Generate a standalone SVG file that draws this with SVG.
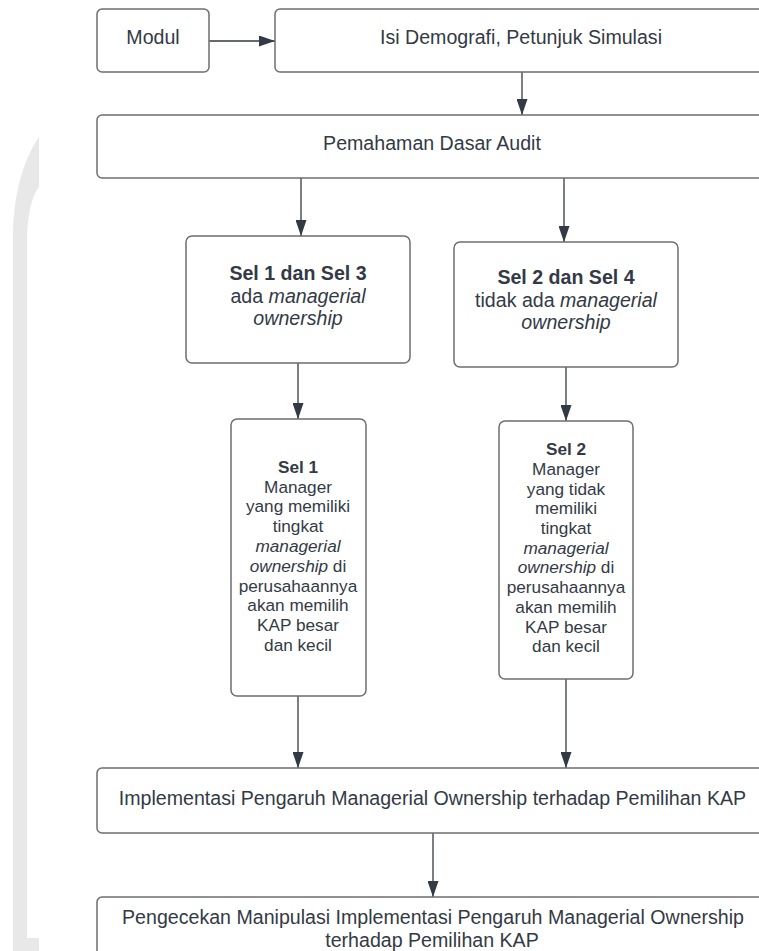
<svg xmlns="http://www.w3.org/2000/svg" width="759" height="951" viewBox="0 0 759 951">
<style>
.box{fill:#ffffff;stroke:#6e6e6e;stroke-width:1.5}
.t{font-family:"Liberation Sans",Arial,sans-serif;fill:#333a45;text-anchor:middle}
.m{font-size:19.6px}
.s{font-size:17.2px}
.b{font-weight:bold}
.i{font-style:italic}
.c{stroke:#333a45;stroke-width:1.3;fill:none;marker-end:url(#ah)}
</style>
<defs>
<marker id="ah" viewBox="0 0 16 11" refX="16" refY="5.5" markerWidth="16" markerHeight="11" markerUnits="userSpaceOnUse" orient="auto">
<path d="M0,0 L16,5.5 L0,11 Z" fill="#333a45"/>
</marker>
</defs>
<rect width="759" height="951" fill="#ffffff"/>
<path id="watermark" d="M39 137 L39 187 C32 196 28 212 27 236 L27 938 L39 938 L39 951 L13 951 L13 232 C14 196 22 162 39 137 Z" fill="#e8e8e8"/>

<g id="connectors">
<line class="c" x1="209" y1="41" x2="275" y2="41"/>
<line class="c" x1="522" y1="72" x2="522" y2="115"/>
<line class="c" x1="301" y1="178" x2="301" y2="236"/>
<line class="c" x1="564" y1="178" x2="564" y2="242"/>
<line class="c" x1="298" y1="363" x2="298" y2="419"/>
<line class="c" x1="566" y1="367" x2="566" y2="421"/>
<line class="c" x1="298" y1="696" x2="298" y2="768"/>
<line class="c" x1="566" y1="679" x2="566" y2="768"/>
<line class="c" x1="433" y1="833" x2="433" y2="897"/>
</g>

<g id="modul">
<rect class="box" x="97" y="9" width="112" height="63" rx="5"/>
<text class="t m" x="153" y="44">Modul</text>
</g>

<g id="isi">
<rect class="box" x="275" y="9" width="492" height="63" rx="5"/>
<text class="t m" x="521" y="44">Isi Demografi, Petunjuk Simulasi</text>
</g>

<g id="pemahaman">
<rect class="box" x="97" y="115" width="670" height="63" rx="5"/>
<text class="t m" x="432" y="150">Pemahaman Dasar Audit</text>
</g>

<g id="sel13">
<rect class="box" x="186" y="236" width="224" height="127" rx="6"/>
<text class="t m" x="298" y="280"><tspan class="b">Sel 1 dan Sel 3</tspan><tspan x="298" y="303">ada <tspan class="i">managerial</tspan></tspan><tspan class="i" x="298" y="325">ownership</tspan></text>
</g>

<g id="sel24">
<rect class="box" x="454" y="242" width="224" height="125" rx="6"/>
<text class="t m" x="566" y="284"><tspan class="b">Sel 2 dan Sel 4</tspan><tspan x="566" y="307">tidak ada <tspan class="i">managerial</tspan></tspan><tspan class="i" x="566" y="329">ownership</tspan></text>
</g>

<g id="sel1">
<rect class="box" x="231" y="419" width="135" height="277" rx="6"/>
<text class="t s" x="298" y="472.7"><tspan class="b">Sel 1</tspan><tspan x="298" y="492.5">Manager</tspan><tspan x="298" y="512.3">yang memiliki</tspan><tspan x="298" y="532.1">tingkat</tspan><tspan class="i" x="298" y="551.9">managerial</tspan><tspan x="298" y="571.7"><tspan class="i">ownership</tspan> di</tspan><tspan x="298" y="591.5">perusahaannya</tspan><tspan x="298" y="611.3">akan memilih</tspan><tspan x="298" y="631.1">KAP besar</tspan><tspan x="298" y="650.9">dan kecil</tspan></text>
</g>

<g id="sel2">
<rect class="box" x="499" y="421" width="134" height="258" rx="6"/>
<text class="t s" x="566" y="455"><tspan class="b">Sel 2</tspan><tspan x="566" y="474.7">Manager</tspan><tspan x="566" y="494.5">yang tidak</tspan><tspan x="566" y="514.2">memiliki</tspan><tspan x="566" y="534">tingkat</tspan><tspan class="i" x="566" y="553.7">managerial</tspan><tspan x="566" y="573.4"><tspan class="i">ownership</tspan> di</tspan><tspan x="566" y="593.2">perusahaannya</tspan><tspan x="566" y="612.9">akan memilih</tspan><tspan x="566" y="632.7">KAP besar</tspan><tspan x="566" y="652.4">dan kecil</tspan></text>
</g>

<g id="implementasi">
<rect class="box" x="97" y="768" width="670" height="65" rx="5"/>
<text class="t m" x="432.5" y="805">Implementasi Pengaruh Managerial Ownership terhadap Pemilihan KAP</text>
</g>

<g id="pengecekan">
<rect class="box" x="97" y="897" width="670" height="80" rx="5"/>
<text class="t m" x="433" y="924">Pengecekan Manipulasi Implementasi Pengaruh Managerial Ownership<tspan x="432" y="947">terhadap Pemilihan KAP</tspan></text>
</g>
</svg>
